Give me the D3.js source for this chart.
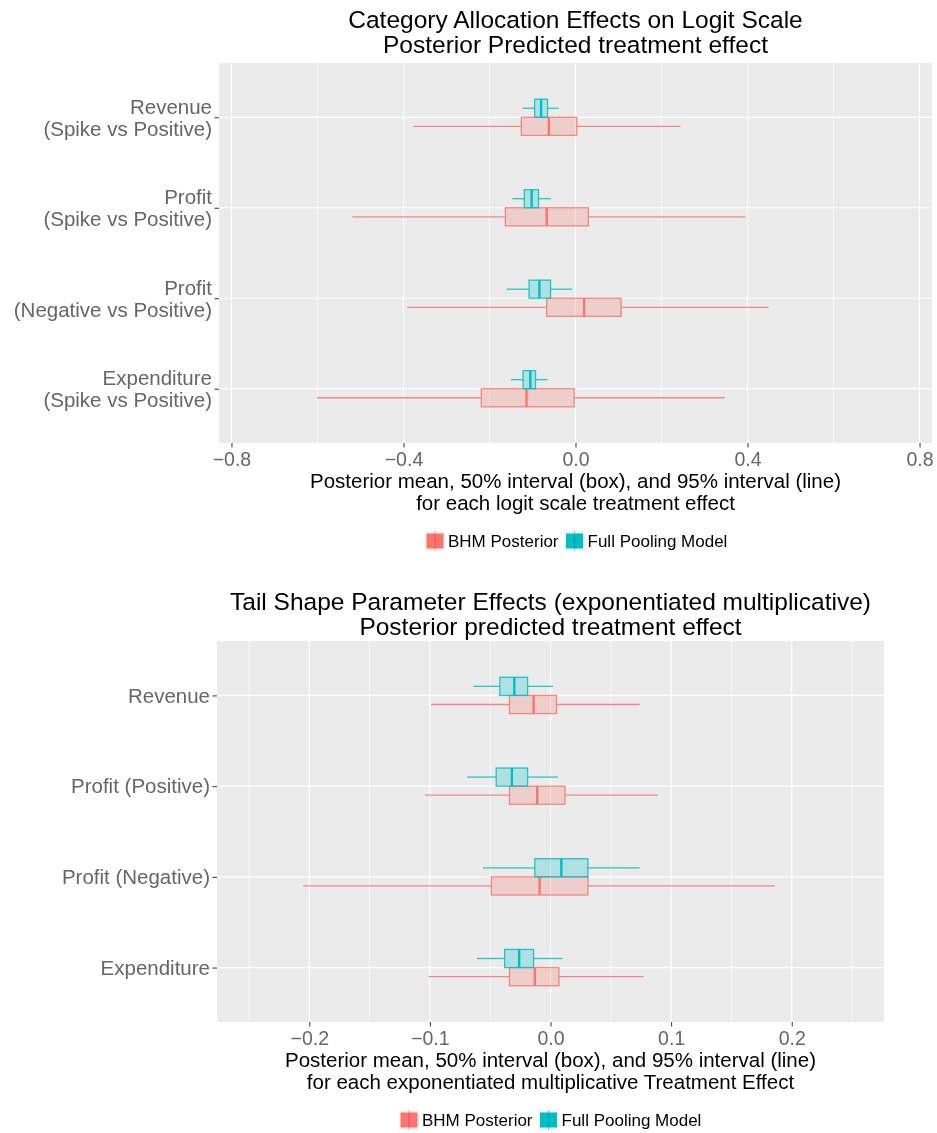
<!DOCTYPE html>
<html>
<head>
<meta charset="utf-8">
<script src="https://cdn.jsdelivr.net/npm/d3@7"></script>
<style>
  html, body { margin: 0; padding: 0; background: #fff; }
  svg { display: block; font-family: "Liberation Sans", Arial, Helvetica, sans-serif; }
</style>
</head>
<body>
<svg id="chart" width="937" height="1133"></svg>
<script>
// Interval summaries per category: [2.5%, 25%, mean, 75%, 97.5%]
const topCategories = ["Revenue\n(Spike vs Positive)", "Profit\n(Spike vs Positive)",
                       "Profit\n(Negative vs Positive)", "Expenditure\n(Spike vs Positive)"];
const topBhm = [
  [-0.377, -0.126, -0.062, 0.003, 0.244],
  [-0.519, -0.163, -0.067, 0.030, 0.395],
  [-0.391, -0.067, 0.020, 0.106, 0.449],
  [-0.601, -0.219, -0.114, -0.003, 0.347]
];
const topPool = [
  [-0.123, -0.095, -0.080, -0.065, -0.039],
  [-0.147, -0.119, -0.102, -0.086, -0.057],
  [-0.160, -0.108, -0.084, -0.058, -0.008],
  [-0.150, -0.122, -0.105, -0.093, -0.065]
];
const topMajorTicks = [-0.8, -0.4, 0.0, 0.4, 0.8];
const topMinorTicks = [-0.6, -0.2, 0.2, 0.6];

const botCategories = ["Revenue", "Profit (Positive)", "Profit (Negative)", "Expenditure"];
const botBhm = [
  [-0.099, -0.034, -0.014, 0.005, 0.074],
  [-0.104, -0.034, -0.011, 0.012, 0.089],
  [-0.205, -0.049, -0.009, 0.031, 0.186],
  [-0.101, -0.034, -0.013, 0.007, 0.077]
];
const botPool = [
  [-0.064, -0.042, -0.030, -0.019, 0.002],
  [-0.069, -0.045, -0.032, -0.019, 0.006],
  [-0.056, -0.013, 0.009, 0.031, 0.074],
  [-0.061, -0.038, -0.026, -0.014, 0.010]
];
const botMajorTicks = [-0.2, -0.1, 0.0, 0.1, 0.2];
const botMinorTicks = [-0.25, -0.15, -0.05, 0.05, 0.15, 0.25];

const seriesNames = ["BHM Posterior", "Full Pooling Model"];
const seriesColors = ["#F8766D", "#00BFC4"];

const svg = d3.select("#chart");
const fmt = v => d3.format(".1f")(v).replace("-", "\u2212");

function drawPanel(cfg) {
  const { x0, x1, y0, y1, domain, categories, bhm, pool, major, minor,
          titleLines, titleY, axisTitleLines, legendX } = cfg;
  const g = svg.append("g");
  const x = d3.scaleLinear().domain(domain).range([x0, x1]);
  const y = d3.scalePoint().domain(categories).range([y0, y1]).padding(0.6);
  const step = y.step();
  const boxH = step * 0.2;
  const cx = (x0 + x1) / 2;

  // panel background and grid
  g.append("rect").attr("x", x0).attr("y", y0).attr("width", x1 - x0).attr("height", y1 - y0)
    .attr("fill", "#EBEBEB");
  g.selectAll(".minor").data(minor).join("line")
    .attr("x1", d => x(d)).attr("x2", d => x(d)).attr("y1", y0).attr("y2", y1)
    .attr("stroke", "#fff").attr("stroke-width", 0.6);
  g.selectAll(".major").data(major).join("line")
    .attr("x1", d => x(d)).attr("x2", d => x(d)).attr("y1", y0).attr("y2", y1)
    .attr("stroke", "#fff").attr("stroke-width", 1.2);
  g.selectAll(".hgrid").data(categories).join("line")
    .attr("x1", x0).attr("x2", x1).attr("y1", d => y(d)).attr("y2", d => y(d))
    .attr("stroke", "#fff").attr("stroke-width", 1.2);

  // interval boxes: BHM below the category line, full pooling above
  const groups = [
    { data: bhm, color: seriesColors[0], off: boxH / 2 },
    { data: pool, color: seriesColors[1], off: -boxH / 2 }
  ];
  groups.forEach(s => {
    s.data.forEach((q, i) => {
      const yc = y(categories[i]) + s.off;
      const gg = g.append("g");
      gg.append("line").attr("x1", x(q[0])).attr("x2", x(q[1])).attr("y1", yc).attr("y2", yc)
        .attr("stroke", s.color).attr("stroke-width", 1.3).attr("stroke-opacity", 0.85);
      gg.append("line").attr("x1", x(q[3])).attr("x2", x(q[4])).attr("y1", yc).attr("y2", yc)
        .attr("stroke", s.color).attr("stroke-width", 1.3).attr("stroke-opacity", 0.85);
      gg.append("rect").attr("x", x(q[1])).attr("y", yc - boxH / 2)
        .attr("width", x(q[3]) - x(q[1])).attr("height", boxH)
        .attr("fill", s.color).attr("fill-opacity", 0.25)
        .attr("stroke", s.color).attr("stroke-opacity", 0.85).attr("stroke-width", 1.3);
      gg.append("line").attr("x1", x(q[2])).attr("x2", x(q[2]))
        .attr("y1", yc - boxH / 2).attr("y2", yc + boxH / 2)
        .attr("stroke", s.color).attr("stroke-width", 2.4);
    });
  });

  // x axis
  const xa = g.append("g").attr("transform", `translate(0,${y1})`)
    .call(d3.axisBottom(x).tickValues(major).tickFormat(fmt).tickSize(4.5).tickPadding(5));
  xa.select(".domain").remove();
  xa.selectAll(".tick line").attr("stroke", "#333").attr("stroke-width", 1);
  xa.selectAll(".tick text").attr("fill", "#666").attr("font-size", 19.5)
    .attr("font-family", "Liberation Sans, Arial, sans-serif");

  // y axis
  const ya = g.append("g").attr("transform", `translate(${x0},0)`)
    .call(d3.axisLeft(y).tickSize(4.5).tickFormat(""));
  ya.select(".domain").remove();
  ya.selectAll(".tick line").attr("stroke", "#333").attr("stroke-width", 1);
  categories.forEach(c => {
    const lines = c.split("\n");
    const t = g.append("text").attr("text-anchor", "end").attr("fill", "#666")
      .attr("font-size", 20.5).attr("x", x0 - 7);
    const first = lines.length === 1 ? 7.3 : -3.6;
    lines.forEach((ln, k) => {
      t.append("tspan").attr("x", x0 - 7).attr("y", y(c) + first + k * 22).text(ln);
    });
  });

  // title
  titleLines.forEach((ln, k) => {
    g.append("text").attr("x", cx).attr("y", titleY + k * 24.5).attr("text-anchor", "middle")
      .attr("font-size", 24.5).attr("fill", "#000").text(ln);
  });
  // axis title
  axisTitleLines.forEach((ln, k) => {
    g.append("text").attr("x", cx).attr("y", y1 + 45 + k * 22).attr("text-anchor", "middle")
      .attr("font-size", 20.5).attr("fill", "#000").text(ln);
  });

  // legend
  const lg = g.append("g").attr("transform", `translate(${legendX},${y1 + 98})`);
  let lx = 0;
  seriesNames.forEach((name, i) => {
    const kg = lg.append("g").attr("transform", `translate(${lx},0)`);
    kg.append("rect").attr("x", 0).attr("y", -10).attr("width", 20).attr("height", 20).attr("fill", "#F2F2F2");
    kg.append("rect").attr("x", 1.5).attr("y", -7.5).attr("width", 17).attr("height", 15)
      .attr("fill", seriesColors[i]);
    kg.append("line").attr("x1", 10).attr("x2", 10).attr("y1", -10).attr("y2", 10)
      .attr("stroke", seriesColors[i]).attr("stroke-width", 1).attr("stroke-opacity", 0.6)
      .style("mix-blend-mode", "multiply");
    const t = kg.append("text").attr("x", 23).attr("y", 6).attr("font-size", 17).attr("fill", "#000").text(name);
    lx += 23 + t.node().getComputedTextLength() + 6;
  });
}

drawPanel({
  x0: 219, x1: 932, y0: 63, y1: 443, domain: [-0.829, 0.829],
  categories: topCategories, bhm: topBhm, pool: topPool,
  major: topMajorTicks, minor: topMinorTicks,
  titleLines: ["Category Allocation Effects on Logit Scale", "Posterior Predicted treatment effect"],
  titleY: 28,
  axisTitleLines: ["Posterior mean, 50% interval (box), and 95% interval (line)",
                   "for each logit scale treatment effect"],
  legendX: 425
});

drawPanel({
  x0: 217, x1: 884, y0: 641, y1: 1022, domain: [-0.2765, 0.2765],
  categories: botCategories, bhm: botBhm, pool: botPool,
  major: botMajorTicks, minor: botMinorTicks,
  titleLines: ["Tail Shape Parameter Effects (exponentiated multiplicative)",
               "Posterior predicted treatment effect"],
  titleY: 610,
  axisTitleLines: ["Posterior mean, 50% interval (box), and 95% interval (line)",
                   "for each exponentiated multiplicative Treatment Effect"],
  legendX: 399
});
</script>
</body>
</html>
